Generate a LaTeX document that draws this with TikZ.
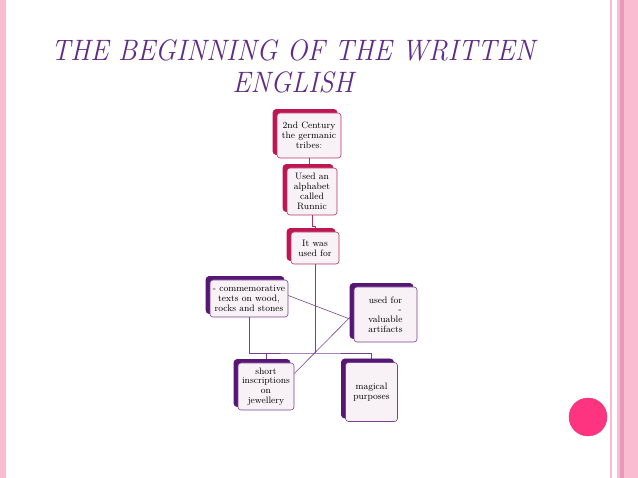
\documentclass[tikz,border=0pt]{standalone}
\usepackage{graphicx}
\usetikzlibrary{shadows,backgrounds}

\definecolor{crim}{RGB}{190,22,82}
\definecolor{crimline}{RGB}{180,50,98}
\definecolor{purp}{RGB}{86,22,116}
\definecolor{purpline}{RGB}{120,64,148}
\definecolor{boxfill}{RGB}{248,241,246}
\definecolor{ttlcol}{RGB}{96,44,136}
\definecolor{edgepink}{RGB}{249,188,208}
\definecolor{edgedark}{RGB}{234,152,184}
\definecolor{dotpink}{RGB}{255,52,128}

\tikzset{
  boxtext/.style={align=center, inner sep=1pt, rounded corners=3pt,
    fill=boxfill, line width=.6pt, font=\fontsize{9.3}{9.8}\selectfont},
  topbox/.style={boxtext, draw=crimline,
    copy shadow={shadow xshift=-4pt, shadow yshift=3.5pt, fill=crim, draw=crim}},
  subbox/.style={boxtext, draw=purpline,
    copy shadow={shadow xshift=-4pt, shadow yshift=3.5pt, fill=purp, draw=purp}},
  toplink/.style={draw=crimline, line width=.6pt},
  sublink/.style={draw=purpline, line width=.6pt},
  ttl/.style={align=center, inner sep=0pt, text=ttlcol,
    font=\itshape\fontsize{29.5}{32}\selectfont}
}

\begin{document}
\begin{tikzpicture}[x=1pt, y=-1pt]
  \useasboundingbox (0,0) rectangle (638,478);

  % page margins
  \fill[edgepink] (0,0) rectangle (6,478);
  \fill[edgepink] (610,0) rectangle (612,478);
  \fill[edgepink] (617,0) rectangle (638,478);
  \fill[edgedark] (620,0) rectangle (624,478);
  \node[circle, fill=dotpink, draw=dotpink!90!black, minimum size=38pt] (dot) at (588,417) {};

  \node[ttl] (title) at (293,66) {\scalebox{.93}[1]{THE BEGINNING OF THE WRITTEN}\\\scalebox{.93}[1]{ENGLISH}};

  % top chain
  \node[topbox, minimum width=64pt, minimum height=45pt] (cent) at (309,135.5) {2nd Century\\the germanic\\tribes:};
  \node[topbox, minimum width=50pt, minimum height=47pt] (alpha) at (312,191.5) {Used an\\alphabet\\called\\Runnic};
  \node[topbox, minimum width=48pt, minimum height=32pt] (use) at (315,248) {It was\\used for};

  % uses
  \node[subbox, minimum width=78pt, minimum height=37pt] (comm) at (249,298.5) {- commemorative\\texts on wood,\\rocks and stones};
  \node[subbox, minimum width=63pt, minimum height=55pt] (valu) at (385.5,314.5) {used for\\\makebox[32pt][r]{-}\\valuable\\artifacts};
  \node[subbox, minimum width=56pt, minimum height=47pt] (insc) at (266,386.5) {short\\inscriptions\\on\\jewellery};
  \node[subbox, minimum width=52pt, minimum height=59pt] (magi) at (371.5,392) {magical\\purposes};

  \coordinate (bus) at (311,353);

  \begin{scope}[on background layer]
    \draw[toplink] (cent.south) -- (cent.south |- alpha.north);
    \draw[toplink] (alpha.south) -- ++(0,11) -| (use.north);
    \draw[sublink] (use.south) -- (use.south |- bus);
    \draw[sublink] (comm.south) |- (bus) -| (magi.north);
    \draw[sublink] (insc.north) -- (insc.north |- bus);
    \draw[sublink] ([yshift=3pt]comm.east) -- ([yshift=-6pt]valu.west);
    \draw[sublink] ([yshift=13pt]insc.east) -- ([yshift=1pt]valu.west);
  \end{scope}
\end{tikzpicture}
\end{document}
